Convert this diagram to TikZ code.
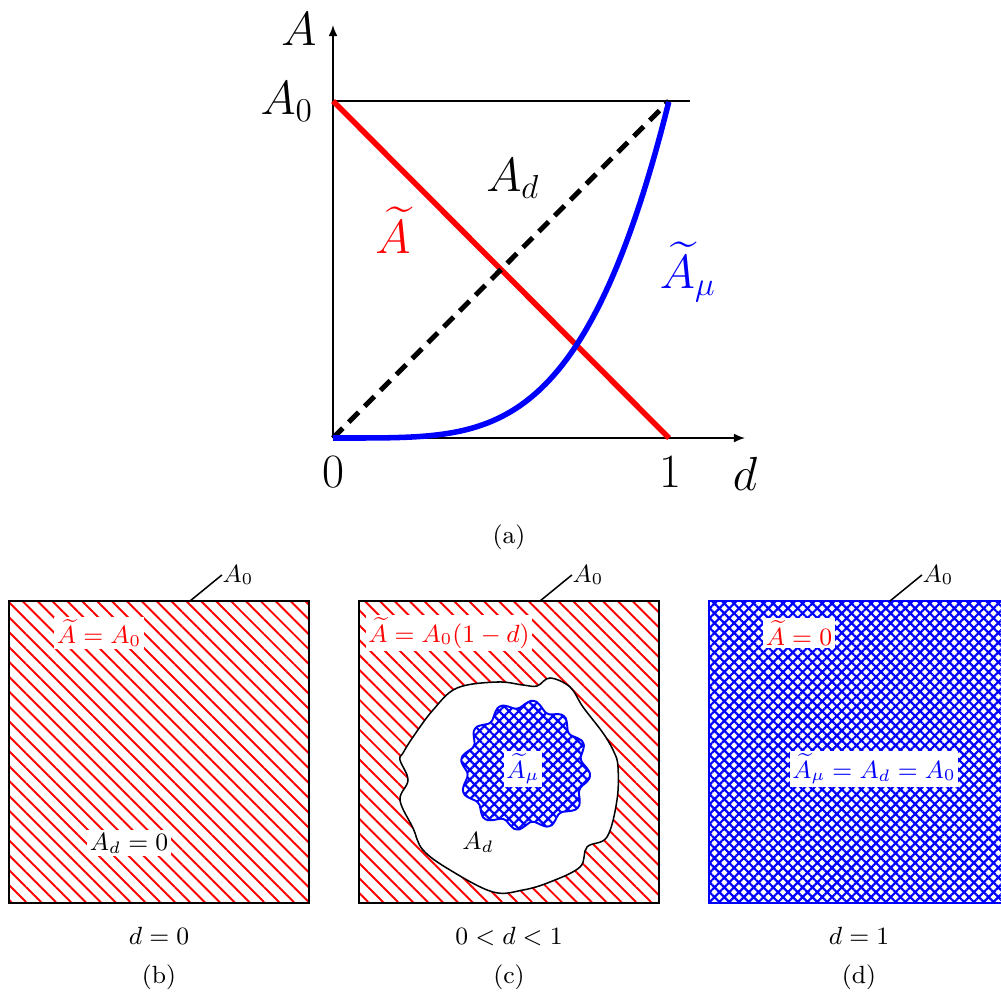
\documentclass[tikz,border=0pt]{standalone}
\usepackage{amsmath}
\usepackage{tikz}
\usepackage{xcolor}
\usetikzlibrary{arrows.meta, patterns.meta}

\begin{document}
\begin{tikzpicture}[x=0.0127cm, y=-0.0127cm, font=\small,
  curve/.style={line width=2pt},
  axis/.style={line width=0.55pt, -{Latex[length=4pt, width=3.2pt]}},
  biglabel/.style={font=\fontsize{18.4}{22}\selectfont},
  redhatch/.style={pattern={Lines[angle=-45, distance=3.8pt, line width=0.7pt]}, pattern color=red},
  bluehatch/.style={pattern={Hatch[angle=45, distance=2.5pt, line width=0.8pt]}, pattern color=blue},
  tag/.style={fill=white, inner sep=1pt},
  leader/.style={line width=0.55pt},
]
  \useasboundingbox (0,0) rectangle (1001,995);

  % (a) the plot
  \coordinate (O) at (333,438);
  \coordinate (ytip) at (333,25);
  \coordinate (xtip) at (745,438);
  \coordinate (A0) at (333,101);
  \coordinate (A0end) at (690,101);
  \coordinate (one) at (669,438);
  \coordinate (top) at (669,101);

  \draw[axis] (O) -- (ytip);
  \draw[axis] (O) -- (xtip);
  \draw[line width=0.9pt] (A0) -- (A0end);
  \draw[curve, red] (A0) -- (one);
  \draw[line width=1.8pt, dash pattern=on 5pt off 3.1pt] (O) -- (top);
  \draw[curve, blue] plot[domain=0:1, samples=80] ({333+336*\x},{438-337*(\x)^4});

  \node[biglabel] (Alab) at (299,29) {$A$};
  \node[biglabel] (A0lab) at (287,102) {$A_0$};
  \node[biglabel] (zero) at (333,472) {$0$};
  \node[biglabel] (onelab) at (670,472) {$1$};
  \node[biglabel] (dlab) at (745,474) {$d$};
  \node[biglabel] (Adlab) at (513,179) {$A_d$};
  \node[biglabel, text=red] (Atlab) at (393,230) {$\widetilde{A}$};
  \node[biglabel, text=blue] (Amulab) at (688,272) {$\widetilde{A}_\mu$};
  \node (capa) at (509,537) {(a)};

  % (b) d = 0
  \draw[redhatch, line width=0.55pt] (9,601) rectangle (309,903);
  \coordinate (lb) at (190,601);
  \node[anchor=base west, inner sep=0pt] (A0b) at (222,582) {$A_0$};
  \draw[leader] (lb) -- (A0b.west);
  \node[tag, text=red] (Atb) at (99,633) {$\widetilde{A}=A_0$};
  \node[tag] (Adb) at (129,843) {$A_d=0$};
  \node (db) at (159,936) {$d=0$};
  \node (capb) at (159,977) {(b)};

  % (c) 0 < d < 1
  \draw[redhatch, line width=0.55pt] (359,601) rectangle (659,903);
  \draw[fill=white, line width=0.55pt] plot[smooth cycle, tension=0.6] coordinates {
    (400,760) (408,780) (400,800) (413,828) (423,850) (450,870) (493,892)
    (523,890) (550,882) (580,867) (587,847) (607,837) (617,800) (618,767)
    (614,752) (603,733) (583,707) (570,687) (550,678) (537,686) (523,685)
    (497,682) (457,688) (433,710) (413,737) (403,753)};
  \draw[bluehatch, draw=blue, line width=0.7pt] plot[smooth cycle, domain=0:355, samples=72]
    ({525+(61+4*sin(12*\x)+2*sin(3*\x))*cos(\x)}, {767+(61+4*sin(12*\x)+2*sin(3*\x))*sin(\x)});
  \coordinate (lc) at (540,601);
  \node[anchor=base west, inner sep=0pt] (A0c) at (572,582) {$A_0$};
  \draw[leader] (lc) -- (A0c.west);
  \node[tag, text=red] (Atc) at (449,633) {$\widetilde{A}=A_0(1-d)$};
  \node[tag, text=blue] (Amuc) at (523,769) {$\widetilde{A}_\mu$};
  \node (Adc) at (478,842) {$A_d$};
  \node (dc) at (509,936) {$0<d<1$};
  \node (capc) at (509,977) {(c)};

  % (d) d = 1
  \draw[bluehatch, draw=blue, line width=0.8pt] (709,601) rectangle (1009,903);
  \coordinate (ld) at (890,601);
  \node[anchor=base west, inner sep=0pt] (A0d) at (922,582) {$A_0$};
  \draw[leader] (ld) -- (A0d.west);
  \node[tag, text=red] (Atd) at (799,633) {$\widetilde{A}=0$};
  \node[tag, text=blue] (Amud) at (874,769) {$\widetilde{A}_\mu=A_d=A_0$};
  \node (dd) at (859,936) {$d=1$};
  \node (capd) at (859,977) {(d)};
\end{tikzpicture}
\end{document}
